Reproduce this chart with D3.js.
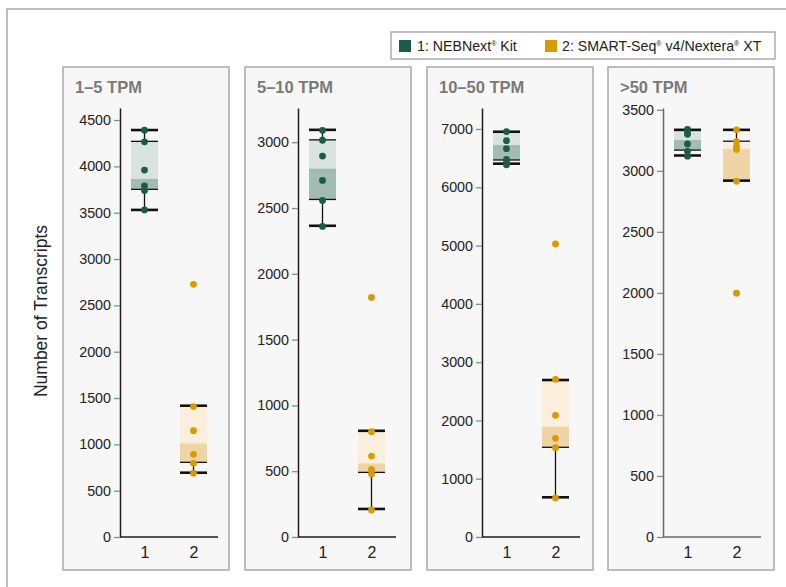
<!DOCTYPE html>
<html>
<head>
<meta charset="utf-8">
<script src="https://cdn.jsdelivr.net/npm/d3@7.9.0/dist/d3.min.js"></script>
<style>
  body { margin: 0; background: #fff; }
  svg { font-family: "Liberation Sans", Arial, Helvetica, sans-serif; }
</style>
</head>
<body>
<svg id="chart" width="786" height="587"></svg>
<script>
// Panel titles and categories
const panelTitles = ["1–5 TPM", "5–10 TPM", "10–50 TPM", ">50 TPM"];
const groups = ["1", "2"];

// y axis tick values per panel
const tickSets = [
    d3.range(0, 4501, 500),
    d3.range(0, 3001, 500),
    d3.range(0, 7001, 1000),
    d3.range(0, 3501, 500)
];
const yMax = [4630, 3260, 7360, 3515];

// Replicate values (number of transcripts)
const kit1Points = [
    [4390, 4265, 3960, 3790, 3740, 3530],
    [3090, 3015, 2895, 2710, 2557, 2360],
    [6955, 6800, 6662, 6480, 6440, 6385],
    [3340, 3325, 3300, 3220, 3160, 3120]
];
const kit2Points = [
    [2727, 1408, 1147, 892, 795, 688],
    [1820, 800, 615, 514, 478, 205],
    [5027, 2705, 2087, 1693, 1532, 669],
    [3336, 3240, 3200, 3175, 2915, 1997]
];

// Box stats: [min, q1, median, q3, max]
const kit1Box = [
    [3530, 3752, 3865, 4270, 4392],
    [2365, 2565, 2800, 3018, 3094],
    [6405, 6468, 6725, 6953, 6953],
    [3126, 3170, 3254, 3336, 3336]
];
const kit2Box = [
    [694, 806, 1011, 1417, 1417],
    [213, 491, 560, 807, 807],
    [681, 1539, 1892, 2693, 2693],
    [2920, 2920, 3180, 3243, 3336]
];

const legendLabels = ["1: NEBNext", "2: SMART-Seq"];

// colours: point, light box, dark box
const palette = [
    { dot: "#1b5b48", light: "#d8e3df", dark: "#a1bcb2" },
    { dot: "#d99a00", light: "#faefdc", dark: "#efd5a6" }
];

const svg = d3.select("#chart");

// outer frame
svg.append("path")
    .attr("d", "M7,600 V9 H800")
    .attr("fill", "none")
    .attr("stroke", "#a8a8a8")
    .attr("stroke-width", 1.5);

// legend
const legend = svg.append("g");
legend.append("rect")
    .attr("x", 391).attr("y", 32).attr("width", 384).attr("height", 27)
    .attr("fill", "#fff").attr("stroke", "#9a9a9a").attr("stroke-width", 1.2);
legend.append("rect").attr("x", 399).attr("y", 40).attr("width", 12).attr("height", 12).attr("fill", palette[0].dot);
legend.append("rect").attr("x", 545).attr("y", 40).attr("width", 12).attr("height", 12).attr("fill", palette[1].dot);

const t1 = legend.append("text").attr("x", 417).attr("y", 51).attr("font-size", 14.2).attr("fill", "#222");
t1.append("tspan").text(legendLabels[0]);
t1.append("tspan").attr("font-size", 7).attr("dy", -5).text("®");
t1.append("tspan").attr("dy", 5).text(" Kit");

const t2 = legend.append("text").attr("x", 562).attr("y", 51).attr("font-size", 14.2).attr("fill", "#222");
t2.append("tspan").text(legendLabels[1]);
t2.append("tspan").attr("font-size", 7).attr("dy", -5).text("®");
t2.append("tspan").attr("dy", 5).text(" v4/Nextera");
t2.append("tspan").attr("font-size", 7).attr("dy", -5).text("®");
t2.append("tspan").attr("dy", 5).text(" XT");

// y axis title
svg.append("text")
    .attr("transform", "translate(47,311) rotate(-90)")
    .attr("text-anchor", "middle")
    .attr("font-size", 17.5)
    .attr("fill", "#222")
    .text("Number of Transcripts");

// panel layout
const panelX = [63, 245, 427, 608];
const axisX = [120, 298, 482, 663];
const panelW = 166, panelTop = 67, panelH = 503;
const yTop = 108, yBottom = 537, xLen = 98;
const boxW = 27;

panelTitles.forEach((title, p) => {
    const g = svg.append("g");

    g.append("rect")
        .attr("x", panelX[p]).attr("y", panelTop)
        .attr("width", panelW).attr("height", panelH)
        .attr("fill", "#f7f7f7").attr("stroke", "#a9a9a9").attr("stroke-width", 1.5);

    g.append("text")
        .attr("x", panelX[p] + 12).attr("y", 93)
        .attr("font-size", 16.5).attr("font-weight", "bold")
        .attr("fill", "#7a7a7a")
        .text(title);

    const y = d3.scaleLinear().domain([0, yMax[p]]).range([yBottom, yTop]);
    const x = d3.scalePoint().domain(groups).range([axisX[p], axisX[p] + xLen]).padding(0.5);
    const axisColor = p === 3 ? "#6a6a6a" : "#1e1e1e";

    // y axis
    const ya = g.append("g")
        .attr("transform", `translate(${axisX[p]},0)`)
        .call(d3.axisLeft(y).tickValues(tickSets[p]).tickSize(6).tickSizeOuter(0).tickPadding(3).tickFormat(d3.format("d")));
    ya.select(".domain").attr("stroke", axisColor).attr("stroke-width", 1.5);
    ya.selectAll(".tick line").attr("stroke", "#8a8a8a").attr("stroke-width", 1.3);
    ya.selectAll(".tick text").attr("font-size", 14.3).attr("fill", "#222").attr("font-family", null);

    // x axis
    const xa = g.append("g")
        .attr("transform", `translate(0,${yBottom})`)
        .call(d3.axisBottom(x).tickSize(0).tickSizeOuter(0).tickPadding(10));
    xa.select(".domain").attr("d", `M${axisX[p]},0H${axisX[p] + xLen}`)
        .attr("stroke", axisColor).attr("stroke-width", 1.5);
    xa.selectAll(".tick text").attr("font-size", 16).attr("fill", "#222").attr("font-family", null);

    const boxes = [kit1Box[p], kit2Box[p]];
    const points = [kit1Points[p], kit2Points[p]];

    groups.forEach((grp, i) => {
        const cx = x(grp);
        const [mn, q1, med, q3, mx] = boxes[i];
        const col = palette[i];
        const bg = g.append("g");

        bg.append("rect")
            .attr("x", cx - boxW / 2).attr("width", boxW)
            .attr("y", y(q3)).attr("height", y(med) - y(q3))
            .attr("fill", col.light);
        bg.append("rect")
            .attr("x", cx - boxW / 2).attr("width", boxW)
            .attr("y", y(med)).attr("height", y(q1) - y(med))
            .attr("fill", col.dark);

        // whiskers
        bg.selectAll("line.wh")
            .data([[q3, mx], [mn, q1]])
            .join("line")
            .attr("class", "wh")
            .attr("x1", cx).attr("x2", cx)
            .attr("y1", d => y(d[0])).attr("y2", d => y(d[1]))
            .attr("stroke", "#111").attr("stroke-width", 1.3);

        // quartile lines
        bg.selectAll("line.q")
            .data([q1, q3])
            .join("line")
            .attr("class", "q")
            .attr("x1", cx - boxW / 2).attr("x2", cx + boxW / 2)
            .attr("y1", d => y(d)).attr("y2", d => y(d))
            .attr("stroke", "#111").attr("stroke-width", 1.3);

        // caps
        bg.selectAll("line.cap")
            .data([mn, mx])
            .join("line")
            .attr("class", "cap")
            .attr("x1", cx - boxW / 2).attr("x2", cx + boxW / 2)
            .attr("y1", d => y(d)).attr("y2", d => y(d))
            .attr("stroke", "#111").attr("stroke-width", 2.6);

        bg.selectAll("circle")
            .data(points[i])
            .join("circle")
            .attr("cx", cx)
            .attr("cy", d => y(d))
            .attr("r", 3.4)
            .attr("fill", col.dot);
    });
});
</script>
</body>
</html>
